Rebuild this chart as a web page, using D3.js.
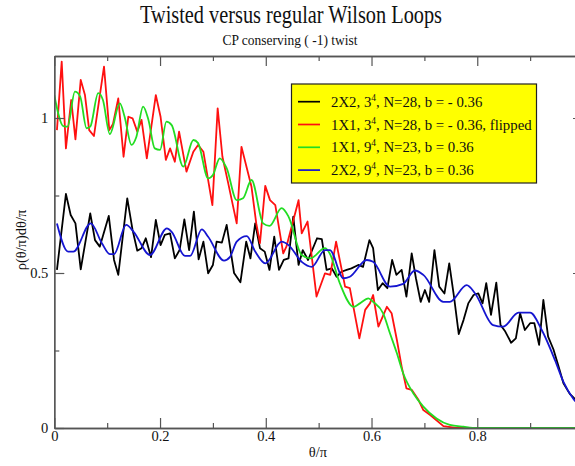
<!DOCTYPE html>
<html>
<head>
<meta charset="utf-8">
<script src="https://cdn.jsdelivr.net/npm/d3@7"></script>
<style>
  body { margin: 0; background: #fff; }
  svg { display: block; }
  text { font-family: "Liberation Serif", "DejaVu Serif", serif; fill: #111; }
</style>
</head>
<body>
<svg width="575" height="466"></svg>
<script>
// series values (theta/pi, rho)
var blackX = [0.005,0.022,0.031,0.040,0.050,0.068,0.077,0.086,0.103,0.113,0.121,0.138,0.148,0.157,0.165,0.173,0.183,0.192,0.201,0.209,0.219,0.228,0.237,0.246,0.255,0.264,0.273,0.282,0.291,0.300,0.307,0.317,0.326,0.340,0.352,0.363,0.371,0.380,0.389,0.398,0.407,0.416,0.425,0.434,0.443,0.452,0.462,0.470,0.480,0.497,0.506,0.515,0.525,0.534,0.543,0.553,0.562,0.575,0.584,0.596,0.603,0.612,0.621,0.630,0.639,0.647,0.657,0.666,0.676,0.684,0.693,0.701,0.709,0.719,0.728,0.738,0.747,0.756,0.765,0.774,0.783,0.793,0.802,0.810,0.817,0.826,0.836,0.844,0.853,0.864,0.873,0.881,0.890,0.900,0.908,0.917,0.925,0.934,0.944,0.953,0.963,0.975,0.990,1.000];
var blackY = [0.510,0.755,0.687,0.660,0.512,0.692,0.606,0.585,0.684,0.542,0.494,0.741,0.639,0.572,0.580,0.612,0.551,0.671,0.590,0.623,0.628,0.547,0.574,0.673,0.574,0.698,0.544,0.601,0.499,0.526,0.601,0.598,0.655,0.500,0.470,0.601,0.547,0.660,0.580,0.569,0.510,0.617,0.510,0.542,0.547,0.682,0.526,0.574,0.542,0.612,0.609,0.510,0.515,0.488,0.504,0.510,0.515,0.526,0.520,0.606,0.580,0.445,0.467,0.451,0.542,0.494,0.510,0.424,0.563,0.483,0.407,0.445,0.407,0.574,0.456,0.434,0.531,0.424,0.303,0.348,0.402,0.429,0.434,0.402,0.467,0.365,0.469,0.332,0.311,0.275,0.289,0.370,0.316,0.338,0.338,0.268,0.413,0.295,0.254,0.203,0.144,0.110,0.085,0.070];

var redX = [0.005,0.014,0.022,0.032,0.040,0.050,0.058,0.066,0.075,0.094,0.104,0.111,0.121,0.131,0.140,0.148,0.157,0.165,0.175,0.192,0.201,0.211,0.219,0.228,0.236,0.250,0.263,0.272,0.282,0.299,0.309,0.318,0.329,0.345,0.354,0.373,0.382,0.389,0.399,0.408,0.418,0.433,0.439,0.462,0.468,0.479,0.496,0.512,0.522,0.533,0.550,0.559,0.577,0.588,0.597,0.603,0.613,0.629,0.638,0.648,0.657,0.666,0.676,0.689,0.698,0.711,0.736,0.760,1.000];
var redY = [0.961,1.182,0.902,1.058,0.931,1.123,1.074,0.961,0.942,1.166,0.961,0.981,1.063,0.875,1.004,0.999,0.956,0.994,0.870,1.074,1.004,0.865,0.902,0.859,0.956,0.827,0.891,0.913,0.891,0.719,1.031,0.875,0.789,0.660,0.907,0.778,0.660,0.596,0.781,0.735,0.719,0.563,0.585,0.735,0.628,0.666,0.424,0.499,0.494,0.601,0.456,0.451,0.289,0.381,0.402,0.429,0.327,0.391,0.370,0.284,0.198,0.128,0.123,0.090,0.058,0.042,0.006,0,0];

var greenX = [0.000,0.017,0.025,0.039,0.049,0.061,0.068,0.083,0.092,0.105,0.124,0.133,0.146,0.155,0.168,0.178,0.190,0.200,0.212,0.222,0.244,0.263,0.272,0.291,0.300,0.313,0.326,0.345,0.357,0.373,0.395,0.407,0.430,0.443,0.468,0.484,0.512,0.521,0.540,0.566,0.578,0.594,0.603,0.622,0.635,0.648,0.660,0.679,0.698,0.723,0.748,0.774,0.800,1.000];
var greenY = [1.074,0.974,0.972,1.085,1.069,0.967,0.972,1.080,1.058,0.948,1.047,1.004,0.913,0.938,1.037,0.994,0.902,0.897,0.988,0.977,0.843,0.929,0.919,0.805,0.816,0.870,0.838,0.735,0.741,0.800,0.660,0.652,0.709,0.682,0.558,0.547,0.580,0.563,0.467,0.391,0.402,0.418,0.407,0.370,0.305,0.241,0.176,0.112,0.069,0.031,0.010,0.004,0,0];

var blueX = [0.005,0.026,0.036,0.069,0.090,0.105,0.113,0.136,0.150,0.181,0.213,0.222,0.247,0.257,0.279,0.291,0.321,0.332,0.345,0.364,0.380,0.399,0.430,0.443,0.468,0.487,0.512,0.521,0.547,0.559,0.591,0.603,0.635,0.660,0.682,0.698,0.736,0.748,0.780,0.796,0.830,0.849,0.878,0.900,0.922,0.947,0.963,0.981,1.000];
var blueY = [0.660,0.569,0.569,0.660,0.596,0.561,0.561,0.655,0.633,0.558,0.644,0.633,0.555,0.555,0.641,0.617,0.540,0.551,0.601,0.619,0.569,0.531,0.601,0.590,0.536,0.520,0.574,0.574,0.483,0.488,0.542,0.536,0.456,0.465,0.508,0.494,0.407,0.407,0.461,0.434,0.332,0.327,0.372,0.372,0.316,0.219,0.149,0.096,0.060];

var seriesNames = ["2X2, 3|4|, N=28, b = - 0.36", "1X1, 3|4|, N=28, b = - 0.36, flipped", "1X1, 9|4|, N=23, b = 0.36", "2X2, 9|4|, N=23, b = 0.36"];
var seriesColors = ["#000000", "#ff1010", "#22dd22", "#1515d0"];
var xTicks = [0, 0.2, 0.4, 0.6, 0.8, 1];
var xMinor = [0.1, 0.3, 0.5, 0.7, 0.9];
var yTicks = [0, 0.5, 1];
var yMinor = [0.25, 0.75];

var svg = d3.select("svg");
var plotL = 54.3, plotR = 583, plotT = 56, plotB = 428;

var x = d3.scaleLinear().domain([0, 1]).range([plotL, plotR]);
var y = d3.scaleLinear().domain([0, 1.2]).range([plotB, plotT]);

// title
svg.append("text").attr("x", 291).attr("y", 23).attr("text-anchor", "middle")
  .style("font-size", "25px").attr("textLength", 302).attr("lengthAdjust", "spacingAndGlyphs")
  .text("Twisted versus regular Wilson Loops");
svg.append("text").attr("x", 290).attr("y", 45).attr("text-anchor", "middle")
  .style("font-size", "15px").attr("textLength", 135).attr("lengthAdjust", "spacingAndGlyphs")
  .text("CP conserving ( -1) twist");

svg.append("defs").append("clipPath").attr("id", "clip")
  .append("rect").attr("x", plotL).attr("y", plotT).attr("width", plotR - plotL).attr("height", plotB - plotT);

// lines
var allSeries = [[blackX, blackY], [redX, redY], [greenX, greenY], [blueX, blueY]];
var lineLin = d3.line().x(function(d) { return x(d[0]); }).y(function(d) { return y(d[1]); });
var lineSmooth = d3.line().x(function(d) { return x(d[0]); }).y(function(d) { return y(d[1]); }).curve(d3.curveMonotoneX);

var plot = svg.append("g").attr("clip-path", "url(#clip)");
allSeries.forEach(function(s, i) {
  var pts = s[0].map(function(v, j) { return [v, s[1][j]]; });
  plot.append("path")
    .attr("d", (i >= 2 ? lineSmooth : lineLin)(pts))
    .attr("fill", "none")
    .attr("stroke", seriesColors[i])
    .attr("stroke-width", 1.8)
    .attr("stroke-linejoin", "round");
});

// axes
function styleAxis(g) {
  g.select(".domain").attr("stroke", "#555").attr("stroke-width", 1.3);
  g.selectAll(".tick line").attr("stroke", "#555").attr("stroke-width", 1.2);
  g.selectAll(".tick text").style("font-family", "Liberation Serif, serif").style("font-size", "14.5px").attr("fill", "#222");
}

svg.append("g").attr("transform", "translate(0," + plotB + ")")
  .call(d3.axisBottom(x).tickValues(xTicks).tickSize(-10).tickPadding(3).tickSizeOuter(0)
    .tickFormat(function(d) { return d === 1 ? "" : d3.format("")(d); }))
  .call(styleAxis);
svg.append("g").attr("transform", "translate(0," + plotB + ")")
  .call(d3.axisBottom(x).tickValues(xMinor).tickSize(-5).tickSizeOuter(0).tickFormat(""))
  .call(styleAxis);
svg.append("g").attr("transform", "translate(0," + plotT + ")")
  .call(d3.axisTop(x).tickValues(xTicks).tickSize(-10).tickSizeOuter(0).tickFormat(""))
  .call(styleAxis);
svg.append("g").attr("transform", "translate(0," + plotT + ")")
  .call(d3.axisTop(x).tickValues(xMinor).tickSize(-5).tickSizeOuter(0).tickFormat(""))
  .call(styleAxis);

svg.append("g").attr("transform", "translate(" + plotL + ",0)")
  .call(d3.axisLeft(y).tickValues(yTicks).tickSize(-10).tickPadding(6).tickSizeOuter(0)
    .tickFormat(function(d) { return d3.format("")(d); }))
  .call(styleAxis);
svg.append("g").attr("transform", "translate(" + plotL + ",0)")
  .call(d3.axisLeft(y).tickValues(yMinor).tickSize(-5).tickSizeOuter(0).tickFormat(""))
  .call(styleAxis);
svg.append("g").attr("transform", "translate(" + plotR + ",0)")
  .call(d3.axisRight(y).tickValues(yTicks).tickSize(-10).tickSizeOuter(0).tickFormat(""))
  .call(styleAxis);
svg.append("g").attr("transform", "translate(" + plotR + ",0)")
  .call(d3.axisRight(y).tickValues(yMinor).tickSize(-5).tickSizeOuter(0).tickFormat(""))
  .call(styleAxis);

// axis labels
svg.append("text").attr("x", 318).attr("y", 457).attr("text-anchor", "middle")
  .style("font-size", "14.5px").text("θ/π");
svg.append("text").attr("transform", "translate(26,240) rotate(-90)").attr("text-anchor", "middle")
  .style("font-size", "14.5px").text("ρ(θ/π)dθ/π");

// legend
var lg = svg.append("g");
lg.append("rect").attr("x", 291.5).attr("y", 84).attr("width", 245).attr("height", 99)
  .attr("fill", "#ffff00").attr("stroke", "#222").attr("stroke-width", 1.2);
seriesNames.forEach(function(name, i) {
  var cy = 101.7 + i * 22.8;
  lg.append("line").attr("x1", 298).attr("x2", 320).attr("y1", cy).attr("y2", cy)
    .attr("stroke", seriesColors[i]).attr("stroke-width", 1.7);
  var parts = name.split("|");
  var t = lg.append("text").attr("x", 331).attr("y", cy + 5).style("font-size", "14.8px");
  t.append("tspan").text(parts[0]);
  t.append("tspan").attr("dy", -6).style("font-size", "9.5px").text(parts[1]);
  t.append("tspan").attr("dy", 6).text(parts[2]);
});
</script>
</body>
</html>
